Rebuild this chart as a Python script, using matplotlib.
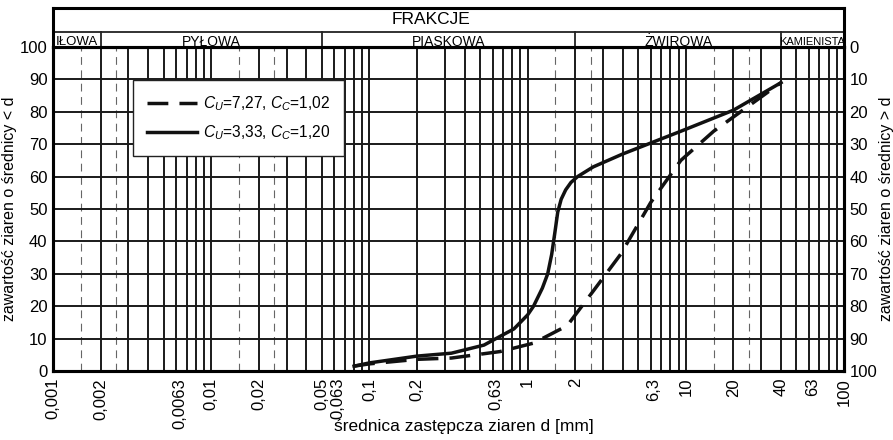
import numpy as np
import matplotlib.pyplot as plt

plt.rcParams['font.family'] = ['Liberation Sans', 'DejaVu Sans']
plt.rcParams['mathtext.fontset'] = 'custom'
plt.rcParams['mathtext.it'] = 'Liberation Sans:italic'
plt.rcParams['mathtext.rm'] = 'Liberation Sans'

# krzywe uziarnienia
d_dash = [0.08, 0.1, 0.2, 0.33, 0.67, 1.09, 1.78, 2.63, 3.87, 6.0, 9.3, 15, 27, 40]
p_dash = [1.5, 2.2, 3.6, 4.0, 6.0, 8.6, 14, 25, 36, 52, 65, 74, 83, 89]

d_solid = [0.08, 0.1, 0.2, 0.33, 0.53, 0.82, 1.0, 1.09, 1.24, 1.34, 1.42, 1.5, 1.55,
           1.63, 1.74, 1.88, 2.07, 2.6, 4.0, 9.3, 20, 40]
p_solid = [1.5, 2.5, 4.6, 5.5, 8.0, 13, 17.3, 20, 25.6, 30, 36, 44, 49,
           53, 55.9, 58.2, 60, 63, 67, 74, 80.5, 89]

label_dash = r'$C_U$=7,27, $C_C$=1,02'
label_solid = r'$C_U$=3,33, $C_C$=1,20'

x_ticks = [0.001, 0.002, 0.0063, 0.01, 0.02, 0.05, 0.063, 0.1, 0.2, 0.63, 1, 2, 6.3, 10, 20, 40, 63, 100]
x_labels = ['0,001', '0,002', '0,0063', '0,01', '0,02', '0,05', '0,063', '0,1', '0,2',
            '0,63', '1', '2', '6,3', '10', '20', '40', '63', '100']

fractions = ['IŁOWA', 'PYŁOWA', 'PIASKOWA', 'ŻWIROWA', 'KAMIENISTA']
frac_bounds = [0.001, 0.002, 0.05, 2, 40, 100]

W, H = 893, 440
fig = plt.figure(figsize=(W / 100, H / 100), dpi=100)
x0, x1 = 53, 844
ytop, ybot, yhead = 47, 371, 8
ax = fig.add_axes([x0 / W, (H - ybot) / H, (x1 - x0) / W, (ybot - ytop) / H])
hx = fig.add_axes([x0 / W, (H - ytop) / H, (x1 - x0) / W, (ytop - yhead) / H])

ax.set_xscale('log')
ax.set_xlim(0.001, 100)
ax.set_ylim(0, 100)

# siatka
gc = '#1a1a1a'
for n in range(-3, 2):
    for k in range(2, 10):
        ax.axvline(k * 10.0 ** n, color=gc, lw=1.4, zorder=1)
    if n > -3:
        ax.axvline(10.0 ** n, color=gc, lw=1.4, zorder=1)
    if n != -1:
        for k in (1.5, 2.5):
            ax.axvline(k * 10.0 ** n, color='#666666', lw=0.8, ls=(0, (7, 5)), zorder=1)
for y in range(10, 100, 10):
    ax.axhline(y, color=gc, lw=1.4, zorder=1)

ax.plot(d_dash, p_dash, color='#111111', lw=2.5, ls=(0, (6, 3.2)), label=label_dash, zorder=3)
ax.plot(d_solid, p_solid, color='#111111', lw=2.5, label=label_solid, zorder=3)

ax.set_xticks(x_ticks)
ax.set_xticklabels(x_labels, rotation=90)
ax.xaxis.set_minor_locator(plt.NullLocator())
ax.set_yticks(range(0, 101, 10))
ax.tick_params(length=0, labelsize=12, pad=4)
ax.tick_params(axis='x', pad=5)
ax.set_xlabel('średnica zastępcza ziaren d [mm]', fontsize=12.5)
ax.xaxis.set_label_coords((464 - x0) / (x1 - x0), (ybot - 419) / (ybot - ytop))
ax.set_ylabel('zawartość ziaren o średnicy < d', fontsize=11.5)
ax.yaxis.set_label_coords((17 - x0) / (x1 - x0), 0.5)
for s in ax.spines.values():
    s.set_linewidth(2.2)

ax2 = ax.twinx()
ax2.set_ylim(100, 0)
ax2.set_yticks(range(0, 101, 10))
ax2.tick_params(length=0, labelsize=12, pad=4)
ax2.set_ylabel('zawartość ziaren o średnicy > d', fontsize=11.5)
ax2.yaxis.set_label_coords((879 - x0) / (x1 - x0), 0.5)
for s in ax2.spines.values():
    s.set_linewidth(2.2)

leg = ax.legend(loc='upper left', bbox_to_anchor=(0.101, 0.898), fontsize=11.2,
                fancybox=False, framealpha=1, edgecolor='#222222', borderaxespad=0,
                handlelength=3.2, borderpad=0.9, labelspacing=0.7, handletextpad=0.4)
leg.get_frame().set_linewidth(1.0)

# naglowek frakcji
hx.set_xscale('log')
hx.set_xlim(0.001, 100)
hx.set_ylim(0, 39)
hx.set_xticks([])
hx.set_yticks([])
hx.xaxis.set_minor_locator(plt.NullLocator())
for s in hx.spines.values():
    s.set_linewidth(2.2)
hx.axhline(15, color='#222222', lw=1.3)
for b in frac_bounds[1:-1]:
    hx.plot([b, b], [0, 15], color='#222222', lw=1.3)
hx.text((431 - x0) / (x1 - x0), 27 / 39, 'FRAKCJE', ha='center', va='center',
        fontsize=12.5, transform=hx.transAxes)
for i, name in enumerate(fractions):
    xm = np.sqrt(frac_bounds[i] * frac_bounds[i + 1])
    if name == 'KAMIENISTA':
        hx.text(xm, 2, name, ha='center', va='baseline', fontsize=8,
                family=['Liberation Sans Narrow', 'Liberation Sans'])
    elif name == 'IŁOWA':
        hx.text(xm, 2, name, ha='center', va='baseline', fontsize=9.5)
    else:
        hx.text(xm, 1.5, name, ha='center', va='baseline', fontsize=10)

fig.savefig('out.png', dpi=100)
